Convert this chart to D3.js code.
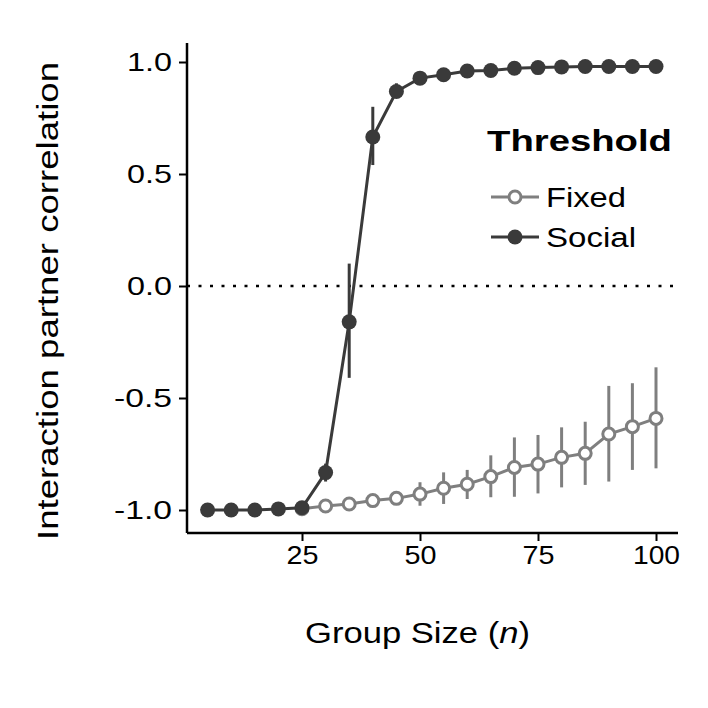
<!DOCTYPE html>
<html><head><meta charset="utf-8">
<script src="https://cdn.jsdelivr.net/npm/d3@7"></script>
<style>body{margin:0;background:#fff}text{font-family:"Liberation Sans",Arial,sans-serif}</style>
</head><body><div id="chart"></div>
<script>
// ── Data ──
const groupSizes = [5,10,15,20,25,30,35,40,45,50,55,60,65,70,75,80,85,90,95,100];
const fixedMean = [-1,-1,-1,-1,-0.994,-0.982,-0.973,-0.958,-0.948,-0.929,-0.903,-0.885,-0.851,-0.81,-0.795,-0.765,-0.747,-0.661,-0.628,-0.591];
const fixedLo   = [-1,-1,-1,-1,-0.998,-0.99,-0.985,-0.972,-0.965,-0.981,-0.973,-0.951,-0.943,-0.941,-0.926,-0.899,-0.888,-0.873,-0.821,-0.814];
const fixedHi   = [-1,-1,-1,-1,-0.99,-0.974,-0.961,-0.944,-0.931,-0.876,-0.832,-0.821,-0.756,-0.676,-0.665,-0.631,-0.606,-0.446,-0.434,-0.363];
const socialMean = [-1,-1,-1,-0.995,-0.99,-0.833,-0.16,0.665,0.868,0.928,0.943,0.96,0.962,0.972,0.975,0.978,0.98,0.98,0.98,0.98];
const socialLo   = [-1,-1,-1,-0.998,-0.995,-0.873,-0.41,0.54,0.84,0.915,0.935,0.955,0.957,0.968,0.972,0.975,0.977,0.977,0.977,0.977];
const socialHi   = [-1,-1,-1,-0.992,-0.985,-0.793,0.10,0.80,0.905,0.941,0.951,0.965,0.967,0.976,0.978,0.981,0.983,0.983,0.983,0.983];
const yTicks = [1.0, 0.5, 0.0, -0.5, -1.0];
const xTicks = [25, 50, 75, 100];

const W = 708, H = 708;
const x = d3.scaleLinear().domain([0, 100]).range([184, 656]);
const y = d3.scaleLinear().domain([-1, 1]).range([510, 62]);
const xL = 187, xR = 678, yT = 43, yB = 533;

const svg = d3.select("#chart").append("svg").attr("width", W).attr("height", H);

// zero line
svg.append("line").attr("x1", xL).attr("x2", xR).attr("y1", y(0)).attr("y2", y(0))
  .attr("stroke", "#000").attr("stroke-width", 2.5).attr("stroke-dasharray", "3,8.5");

// axes
const ax = svg.append("g").attr("transform", `translate(0,${yB})`)
  .call(d3.axisBottom(x).tickValues(xTicks).tickSize(8).tickPadding(5));
const ay = svg.append("g").attr("transform", `translate(${xL},0)`)
  .call(d3.axisLeft(y).tickValues(yTicks).tickSize(8).tickPadding(7)
    .tickFormat(d => d3.format(".1f")(d).replace("\u2212", "-")));
[ax, ay].forEach(a => {
  a.select(".domain").remove();
  a.selectAll("line").attr("stroke", "#000").attr("stroke-width", 2);
  a.selectAll("text").attr("font-size", 25).attr("fill", "#000").attr("font-family", "Arial, Liberation Sans, sans-serif");
});
ay.selectAll("text").attr("textLength", d => d < 0 ? 58 : 45).attr("lengthAdjust", "spacingAndGlyphs");
ax.selectAll("text").attr("textLength", d => d === 100 ? 47 : 32).attr("lengthAdjust", "spacingAndGlyphs");
svg.append("line").attr("x1", xL).attr("x2", xR).attr("y1", yB).attr("y2", yB).attr("stroke", "#000").attr("stroke-width", 2.5);
svg.append("line").attr("x1", xL).attr("x2", xL).attr("y1", yT).attr("y2", yB).attr("stroke", "#000").attr("stroke-width", 2.5);

// titles
svg.append("text").attr("x", 305).attr("y", 643).attr("font-size", 30)
  .attr("textLength", 225).attr("lengthAdjust", "spacingAndGlyphs")
  .html('Group Size (<tspan font-style="italic">n</tspan>)');
svg.append("text").attr("transform", "translate(58,540) rotate(-90)")
  .attr("font-size", 30).attr("textLength", 478).attr("lengthAdjust", "spacingAndGlyphs")
  .text("Interaction partner correlation");

function series(mean, lo, hi, color, fill, start) {
  const idx = groupSizes.map((d, i) => i).filter(i => i >= start);
  const g = svg.append("g");
  g.selectAll("line.err").data(idx).join("line")
    .attr("x1", i => x(groupSizes[i])).attr("x2", i => x(groupSizes[i]))
    .attr("y1", i => y(lo[i])).attr("y2", i => y(hi[i]))
    .attr("stroke", color).attr("stroke-width", 3);
  g.append("path").datum(idx)
    .attr("d", d3.line().x(i => x(groupSizes[i])).y(i => y(mean[i])))
    .attr("fill", "none").attr("stroke", color).attr("stroke-width", 3);
  g.selectAll("circle").data(idx).join("circle")
    .attr("cx", i => x(groupSizes[i])).attr("cy", i => y(mean[i]))
    .attr("r", fill === "#fff" ? 6 : 7.5)
    .attr("fill", fill).attr("stroke", color).attr("stroke-width", fill === "#fff" ? 3 : 0);
}
series(fixedMean, fixedLo, fixedHi, "#7f7f7f", "#fff", 4);
series(socialMean, socialLo, socialHi, "#3a3a3a", "#3a3a3a", 0);

// legend
svg.append("text").attr("x", 487).attr("y", 151).attr("font-size", 30).attr("font-weight", "bold")
  .attr("textLength", 185).attr("lengthAdjust", "spacingAndGlyphs").text("Threshold");
const leg = [["Fixed", "#7f7f7f", "#fff", 197, 80], ["Social", "#3a3a3a", "#3a3a3a", 237, 90]];
leg.forEach(([lab, c, f, ly, tl]) => {
  svg.append("line").attr("x1", 491).attr("x2", 539).attr("y1", ly).attr("y2", ly).attr("stroke", c).attr("stroke-width", 3);
  svg.append("circle").attr("cx", 515).attr("cy", ly).attr("r", f === "#fff" ? 6 : 7.5)
    .attr("fill", f).attr("stroke", c).attr("stroke-width", f === "#fff" ? 3 : 0);
  svg.append("text").attr("x", 546).attr("y", ly + 10).attr("font-size", 27)
    .attr("textLength", tl).attr("lengthAdjust", "spacingAndGlyphs").text(lab);
});
</script></body></html>
